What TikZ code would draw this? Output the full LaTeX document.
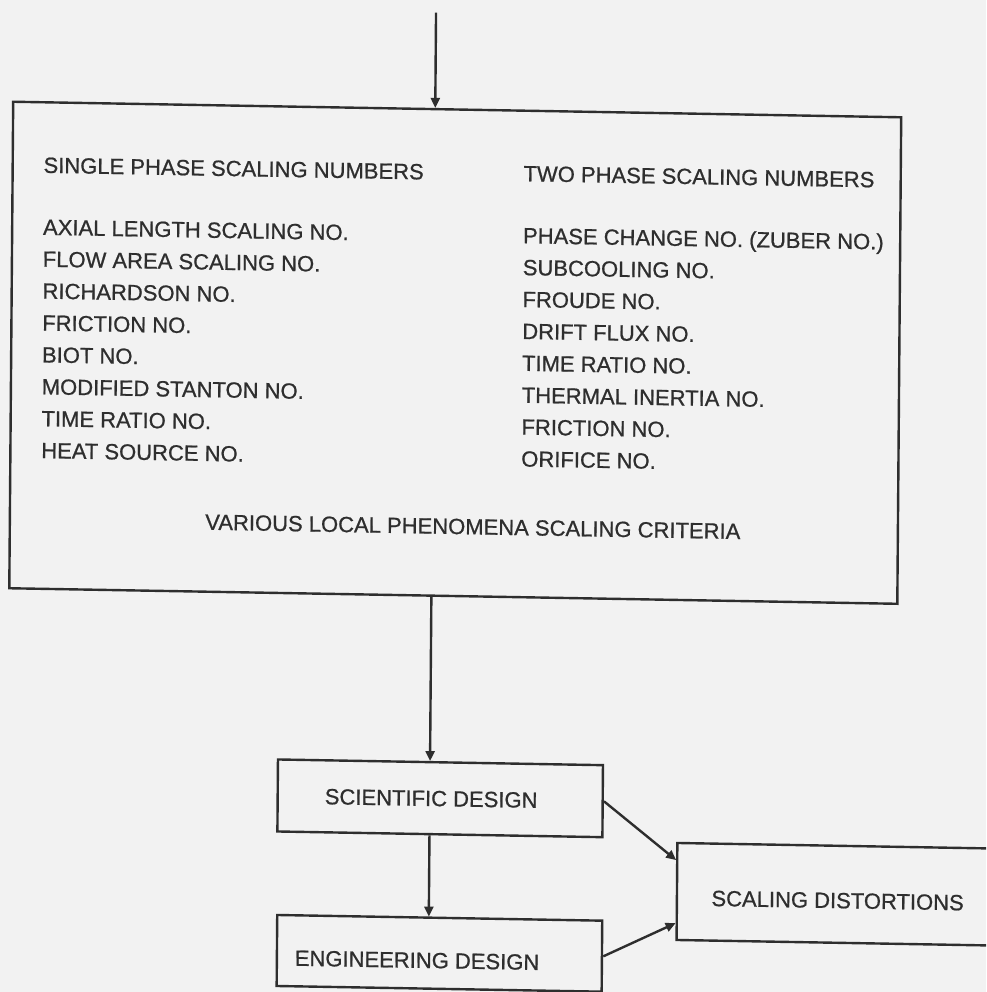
\documentclass[tikz,border=0pt]{standalone}
\usepackage{fontspec}
\setmainfont[FakeBold=0.8]{Liberation Sans}
\usetikzlibrary{arrows.meta}
\definecolor{ink}{HTML}{2E2E2E}
\definecolor{paper}{HTML}{F2F2F2}
\begin{document}
\begin{tikzpicture}[x=1pt,y=-1pt,
  line/.style={draw=ink, line width=2.4pt},
  arr/.style={line, -{Triangle[length=10pt,width=9pt]}},
  box/.style={draw=ink, line width=2.4pt, rectangle, inner sep=0pt, font=\fontsize{22}{26}\selectfont, text=ink},
  txt/.style={font=\fontsize{22}{26}\selectfont, text=ink, inner sep=0pt}]
\useasboundingbox (0,0) rectangle (986,992);
\fill[paper] (0,0) rectangle (986,992);
\clip (0,0) rectangle (986,992);
\begin{scope}[cm={1,-0.0175,0.008,1,(0,0)}, transform shape]
\coordinate (in) at (436,5);
\coordinate (vx) at (436,0);
\node[box, minimum width=888pt, minimum height=486.5pt] (big) at (458,344.75) {};
\node[txt, anchor=base west] (sh) at (44.7,172) {SINGLE PHASE SCALING NUMBERS};
\node[txt, anchor=base west] (th) at (524.7,172) {TWO PHASE SCALING NUMBERS};
\foreach \t [count=\i] in {{AXIAL LENGTH SCALING NO.},{FLOW AREA SCALING NO.},{RICHARDSON NO.},{FRICTION NO.},{BIOT NO.},{MODIFIED STANTON NO.},{TIME RATIO NO.},{HEAT SOURCE NO.}}
  \node[txt, anchor=base west] (l\i) at (44.7,{234+(\i-1)*31.9}) {\t};
\foreach \t [count=\i] in {{PHASE CHANGE NO. (ZUBER NO.)},{SUBCOOLING NO.},{FROUDE NO.},{DRIFT FLUX NO.},{TIME RATIO NO.},{THERMAL INERTIA NO.},{FRICTION NO.},{ORIFICE NO.}}
  \node[txt, anchor=base west] (r\i) at (524.7,{234+(\i-1)*31.9}) {\t};
\node[txt, anchor=base] (var) at (477,526) {VARIOUS LOCAL PHENOMENA SCALING CRITERIA};
\node[box, minimum width=325pt, minimum height=72pt, text height=15.75pt, text depth=0pt] (sci) at (446.5,790.5) {SCIENTIFIC DESIGN\hspace*{18pt}};
\node[box, minimum width=325pt, minimum height=71pt, text height=29.8pt, text depth=0pt] (eng) at (447,945.5) {ENGINEERING DESIGN\hspace*{44.6pt}};
\node[box, minimum width=321.4pt, minimum height=97pt, text height=27.75pt, text depth=0pt] (dist) at (844.7,879.5) {SCALING DISTORTIONS};
\draw[arr] (in) -- (in |- big.north);
\draw[arr] (big.south -| vx) -- (sci.north -| vx);
\draw[arr] (sci.south -| vx) -- (eng.north -| vx);
\draw[arr] (sci.east) -- ([yshift=31.5pt]dist.west);
\draw[arr] (eng.east) -- ([yshift=-31.5pt]dist.west);
\end{scope}
\end{tikzpicture}
\end{document}
